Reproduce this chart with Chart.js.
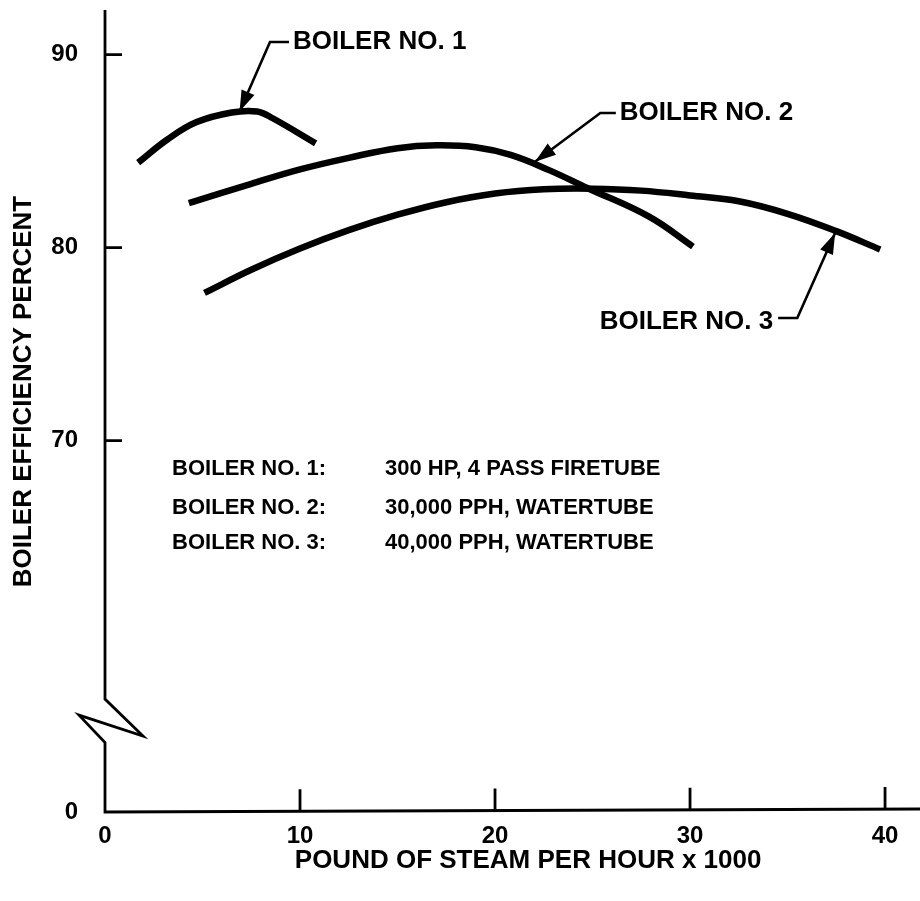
<!DOCTYPE html>
<html>
<head>
<meta charset="utf-8">
<title>Boiler efficiency vs steam load</title>
<style>
  html, body { margin: 0; padding: 0; background: #ffffff; }
  #wrap { width: 920px; height: 901px; }
</style>
<script src="https://cdn.jsdelivr.net/npm/chart.js@4.4.1/dist/chart.umd.min.js"></script>
</head>
<body>
<div id="wrap"><canvas id="chart" width="920" height="901"></canvas></div>
<script>
// ---- data: [steam load (1000 lb/h), efficiency (%)] ----
const boiler1 = [[1.7, 84.4], [3.2, 85.6], [4.7, 86.5], [6.5, 87.0], [7.8, 87.05], [8.6, 86.7], [10.8, 85.4]];
const boiler2 = [[4.3, 82.3], [7.5, 83.3], [10.0, 84.05], [12.5, 84.65], [15.0, 85.15], [17.0, 85.3],
                 [19.0, 85.2], [20.8, 84.8], [22.8, 84.0], [24.7, 83.1], [27.9, 81.6], [30.15, 80.05]];
const boiler3 = [[5.1, 77.65], [7.5, 78.85], [10.0, 79.95], [12.5, 80.9], [15.0, 81.7], [17.5, 82.35],
                 [20.0, 82.8], [22.5, 83.02], [25.0, 83.05], [27.5, 82.95], [30.0, 82.7], [32.5, 82.4],
                 [35.0, 81.75], [37.5, 80.85], [39.75, 79.9]];

const seriesNames = ['BOILER NO. 1', 'BOILER NO. 2', 'BOILER NO. 3'];
const seriesNotes = ['300 HP, 4 PASS FIRETUBE', '30,000 PPH, WATERTUBE', '40,000 PPH, WATERTUBE'];

// axis ticks; the lowest y tick sits below the axis break and reads as 0
const xTickValues = [0, 10, 20, 30, 40];
const xTickLabels = ['0', '10', '20', '30', '40'];
const yFloor = 50.75;
const yTickValues = [yFloor, 70, 80, 90];
const yTickLabels = ['0', '70', '80', '90'];

// leading spaces nudge the centred axis titles off the plot-area centre
const xTitle = '\u2002\u2002 POUND OF STEAM PER HOUR x 1000';
const yTitle = '\u2002\u2002\u2002BOILER EFFICIENCY PERCENT';

// ---- layout / styling ----
const FONT = '"Liberation Sans", Arial, Helvetica, sans-serif';
const INK = '#000000';
const breakHigh = 56.6, breakLow = 54.35;   // y values where the axis break zig-zag sits

// callouts: arrow tip on curve, elbow of the leader, label anchor (data units)
const callouts = [
  { tip: [6.9, 87.05],  elbow: [8.46, 90.65], text: [9.64, 90.65],  side: 'left'  },
  { tip: [22.05, 84.45], elbow: [25.4, 86.97], text: [26.4, 86.97], side: 'left'  },
  { tip: [37.44, 80.75], elbow: [35.5, 76.35], text: [34.26, 76.15], side: 'right' }
];
// description block: column x values and row y values (data units)
const notesColX = [3.44, 14.36];
const notesRowY = [68.52, 66.5, 64.69];

const toPts = arr => arr.map(([x, y]) => ({ x, y }));

const decor = {
  id: 'decor',
  beforeDraw(chart) {
    chart.ctx.letterSpacing = '0px';
  },
  afterDraw(chart) {
    const { ctx, scales: { x, y } } = chart;
    const px = v => x.getPixelForValue(v);
    const py = v => y.getPixelForValue(v);
    ctx.save();
    ctx.strokeStyle = INK;
    ctx.fillStyle = INK;
    ctx.lineWidth = 2.8;
    ctx.lineJoin = 'miter';
    ctx.lineCap = 'butt';

    // axes, with the break on the y axis
    const ax = px(0), ay = py(yFloor);
    const b1 = py(breakHigh), b2 = py(breakLow);
    ctx.beginPath();
    ctx.moveTo(ax, y.top);
    ctx.lineTo(ax, b1);
    ctx.lineTo(ax + 38, b1 + 37);
    ctx.lineTo(ax - 26, b1 + 16);
    ctx.lineTo(ax, b2);
    ctx.lineTo(ax, ay);
    ctx.lineTo(x.right + 2, ay - 3);
    ctx.stroke();

    // inward tick marks
    ctx.beginPath();
    yTickValues.slice(1).forEach(v => { ctx.moveTo(ax, py(v)); ctx.lineTo(ax + 17, py(v)); });
    xTickValues.slice(1).forEach(v => {
      const base = ay - 0.075 * v;
      ctx.moveTo(px(v), base); ctx.lineTo(px(v), base - 22);
    });
    ctx.stroke();

    // callouts
    ctx.font = 'bold 26px ' + FONT;
    ctx.textBaseline = 'middle';
    callouts.forEach((c, i) => {
      const tx = px(c.tip[0]), ty = py(c.tip[1]);
      const ex = px(c.elbow[0]), ey = py(c.elbow[1]);
      const lx = px(c.text[0]), ly = py(c.text[1]);
      const hx = c.side === 'left' ? lx - 4 : lx + 5;
      ctx.lineWidth = 2.6;
      ctx.beginPath();
      ctx.moveTo(hx, ey);
      ctx.lineTo(ex, ey);
      ctx.lineTo(tx, ty);
      ctx.stroke();
      // arrow head
      const ang = Math.atan2(ty - ey, tx - ex);
      const L = 21, W = 7;
      ctx.beginPath();
      ctx.moveTo(tx, ty);
      ctx.lineTo(tx - L * Math.cos(ang) + W * Math.sin(ang), ty - L * Math.sin(ang) - W * Math.cos(ang));
      ctx.lineTo(tx - L * Math.cos(ang) - W * Math.sin(ang), ty - L * Math.sin(ang) + W * Math.cos(ang));
      ctx.closePath();
      ctx.fill();
      ctx.textAlign = c.side === 'left' ? 'left' : 'right';
      ctx.fillText(seriesNames[i], lx, ly);
    });

    // description block
    ctx.font = 'bold 22px ' + FONT;
    ctx.textAlign = 'left';
    seriesNames.forEach((name, i) => {
      ctx.fillText(name + ':', px(notesColX[0]), py(notesRowY[i]));
      ctx.fillText(seriesNotes[i], px(notesColX[1]), py(notesRowY[i]));
    });
    ctx.restore();
  }
};

const lineStyle = {
  borderColor: INK,
  borderWidth: 6.5,
  pointRadius: 0,
  pointHoverRadius: 0,
  fill: false,
  tension: 0.4,
  borderCapStyle: 'butt',
  borderJoinStyle: 'round'
};

new Chart(document.getElementById('chart'), {
  type: 'line',
  data: {
    datasets: [
      Object.assign({ label: seriesNames[0], data: toPts(boiler1) }, lineStyle),
      Object.assign({ label: seriesNames[1], data: toPts(boiler2) }, lineStyle),
      Object.assign({ label: seriesNames[2], data: toPts(boiler3) }, lineStyle)
    ]
  },
  options: {
    responsive: false,
    animation: false,
    devicePixelRatio: 1,
    layout: { padding: { top: 10, right: 2, bottom: 0, left: 0 } },
    plugins: { legend: { display: false }, tooltip: { enabled: false } },
    scales: {
      x: {
        type: 'linear',
        min: 0,
        max: 41.69,
        afterFit: s => { s.height = 89; s.paddingLeft = 0; s.paddingRight = 0; },
        afterBuildTicks: s => { s.ticks = xTickValues.map(v => ({ value: v })); },
        grid: { display: false },
        border: { display: false },
        ticks: {
          color: INK,
          padding: 2,
          maxRotation: 0,
          autoSkip: false,
          font: { family: FONT, size: 24, weight: 'bold' },
          callback: (v, i) => xTickLabels[i]
        },
        title: {
          display: true,
          text: xTitle,
          color: INK,
          font: { family: FONT, size: 26, weight: 'bold' },
          padding: { top: 0, bottom: 25 }
        }
      },
      y: {
        type: 'linear',
        min: yFloor,
        max: 92.31,
        afterFit: s => { s.width = 105; s.paddingTop = 0; s.paddingBottom = 0; },
        afterBuildTicks: s => { s.ticks = yTickValues.map(v => ({ value: v })); },
        grid: { display: false },
        border: { display: false },
        ticks: {
          color: INK,
          padding: 19,
          autoSkip: false,
          font: { family: FONT, size: 24, weight: 'bold' },
          callback: (v, i) => yTickLabels[i]
        },
        title: {
          display: true,
          text: yTitle,
          color: INK,
          font: { family: FONT, size: 26, weight: 'bold' },
          padding: { top: 8, bottom: 0 }
        }
      }
    }
  },
  plugins: [decor]
});
</script>
</body>
</html>
